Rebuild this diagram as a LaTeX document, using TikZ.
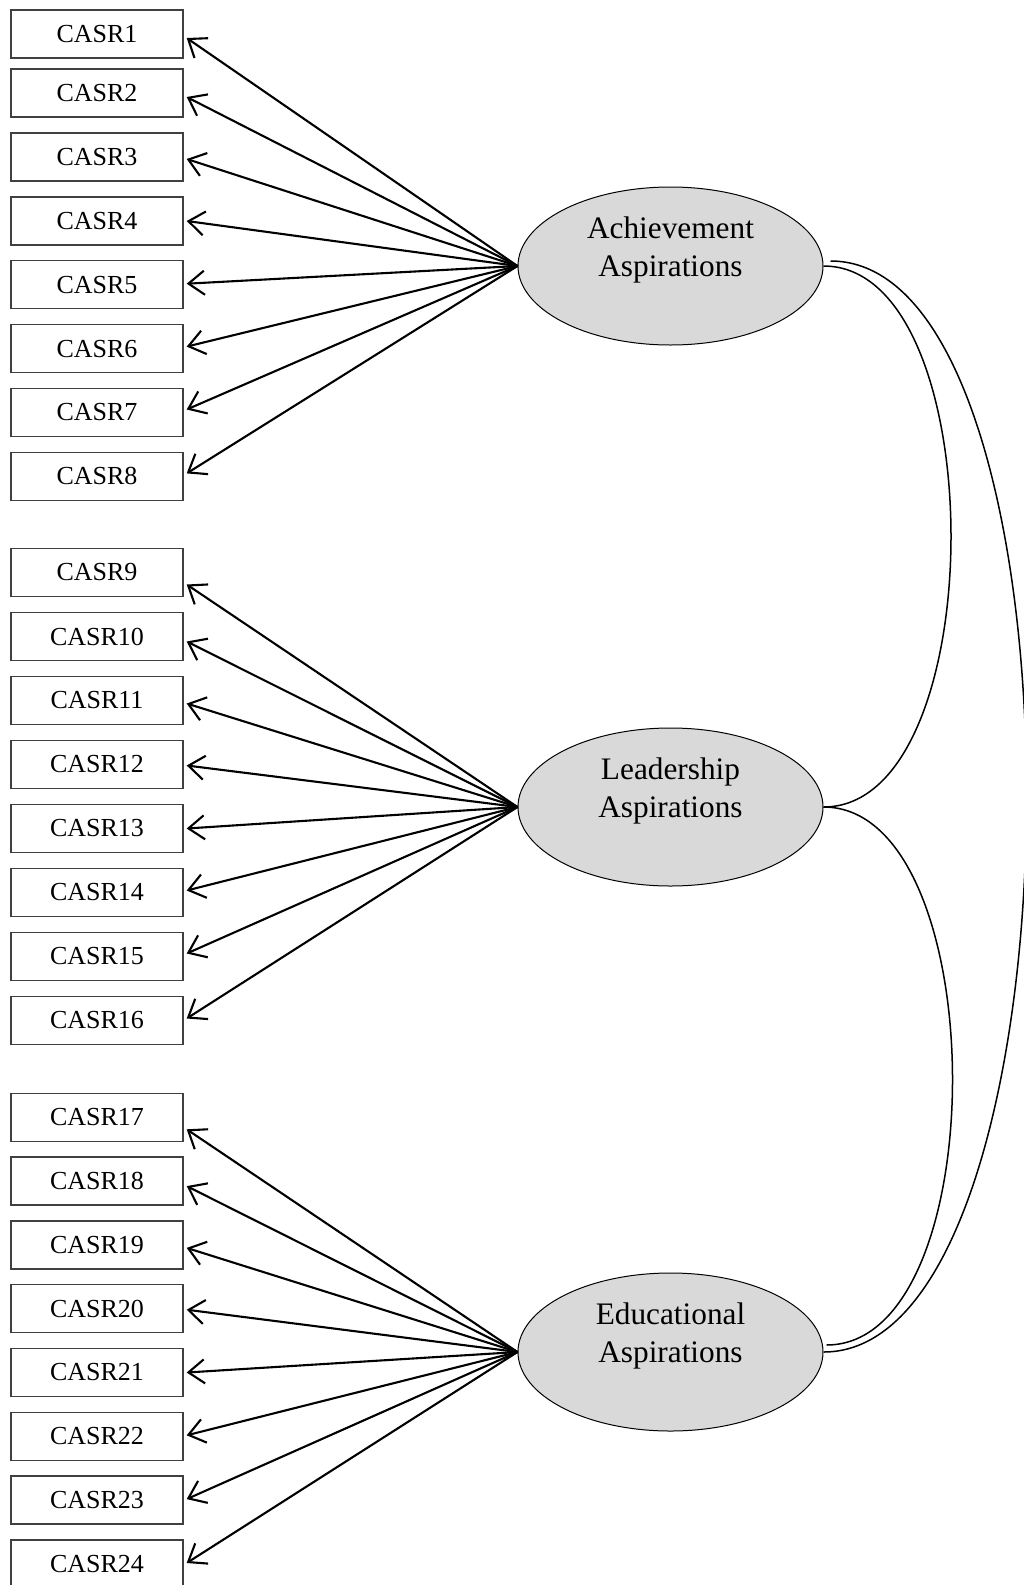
\documentclass[tikz,border=0pt]{standalone}
\usepackage{fontspec}
\setmainfont{Liberation Serif}
\usetikzlibrary{arrows.meta,shapes.geometric}
\begin{document}
\begin{tikzpicture}[x=1pt,y=-1pt,
  obs/.style={draw=black!75,line width=1.4pt,minimum width=172pt,minimum height=48pt,inner sep=0pt,font=\fontsize{26}{30}\selectfont},
  lat/.style={ellipse,draw=black,line width=1pt,fill=black!15,minimum width=305pt,minimum height=158pt,inner sep=0pt},
  lattext/.style={anchor=base,inner sep=0pt,font=\fontsize{31.3}{37}\selectfont},
  load/.style={line width=2.1pt,-{Straight Barb[length=16pt,width=24pt]}},
  cov/.style={line width=1.5pt}]
\useasboundingbox (0,0) rectangle (1024,1585);
\node[lat] (A) at (670.5,266) {};
\node[lat] (L) at (670.5,807) {};
\node[lat] (E) at (670.5,1352) {};
\node[lattext] (At1) at ([yshift=27.5pt]A.center) {Achievement};
\node[lattext] (At2) at ([yshift=-10.5pt]A.center) {Aspirations};
\node[lattext] (Lt1) at ([yshift=27.5pt]L.center) {Leadership};
\node[lattext] (Lt2) at ([yshift=-10.5pt]L.center) {Aspirations};
\node[lattext] (Et1) at ([yshift=27.5pt]E.center) {Educational};
\node[lattext] (Et2) at ([yshift=-10.5pt]E.center) {Aspirations};
\foreach \n/\y/\o in {1/34/-4pt,2/93/-4pt,3/157/-2pt,4/221/0pt,5/284.7/1pt,6/348.6/2pt,7/412.5/3pt,8/476.4/3pt}{
  \node[obs] (b\n) at (97,\y) {CASR\n};
  \draw[load] (A.west) -- ([xshift=3pt,yshift=\o]b\n.east);
}
\foreach \n/\y/\o in {9/572.5/-12pt,10/636.5/-5pt,11/700.5/-3pt,12/764.5/-1pt,13/828.5/0pt,14/892.5/2pt,15/956.5/3pt,16/1020.5/2pt}{
  \node[obs] (b\n) at (97,\y) {CASR\n};
  \draw[load] (L.west) -- ([xshift=3pt,yshift=\o]b\n.east);
}
\foreach \n/\y/\o in {17/1117.3/-12pt,18/1181.1/-5pt,19/1244.9/-3pt,20/1308.7/-1pt,21/1372.5/0pt,22/1436.3/1pt,23/1500.1/1pt,24/1564/1pt}{
  \node[obs] (b\n) at (97,\y) {CASR\n};
  \draw[load] (E.west) -- ([xshift=3pt,yshift=\o]b\n.east);
}
\draw[cov] (A.east) .. controls +(170,0) and +(170,0) .. (L.east);
\draw[cov] (L.east) .. controls +(170,0) and +(170,0) .. ([xshift=3pt,yshift=7pt]E.east);
\draw[cov] ([xshift=7pt,yshift=5pt]A.east) .. controls +(266,0) and +(266,0) .. (E.east);
\end{tikzpicture}
\end{document}
